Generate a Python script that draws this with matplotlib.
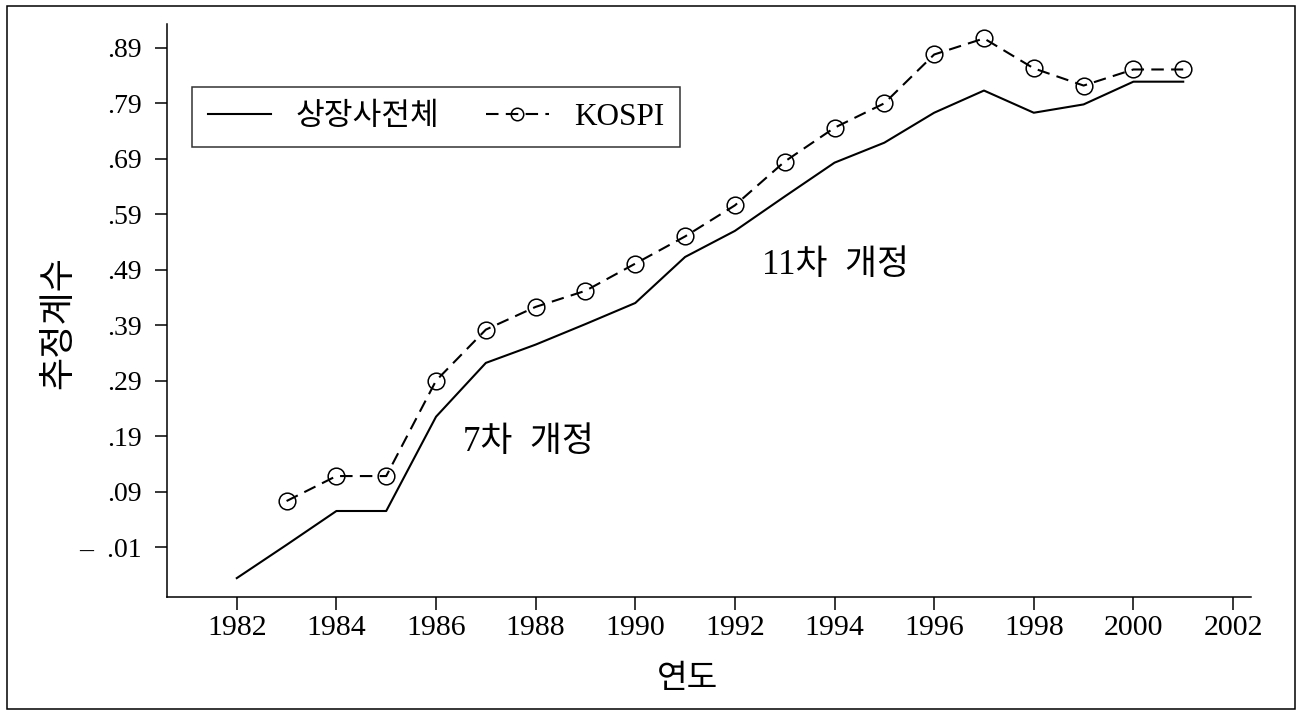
import numpy as np
import matplotlib
matplotlib.use('Agg')
import matplotlib.pyplot as plt
from matplotlib.patches import Rectangle

# 숫자는 세리프, 한글은 CJK 폰트로 대체
plt.rcParams['font.family'] = ['Liberation Serif', 'Noto Sans CJK KR']
plt.rcParams['axes.unicode_minus'] = False

# 데이터
years_all = [1982, 1983, 1984, 1985, 1986, 1987, 1988, 1989, 1990, 1991,
             1992, 1993, 1994, 1995, 1996, 1997, 1998, 1999, 2000, 2001]
coef_all = [-0.066, -0.006, 0.055, 0.055, 0.225, 0.322, 0.355, 0.392, 0.430, 0.513,
            0.560, 0.622, 0.683, 0.719, 0.773, 0.813, 0.773, 0.788, 0.829, 0.829]

years_kospi = [1983, 1984, 1985, 1986, 1987, 1988, 1989, 1990, 1991, 1992,
               1993, 1994, 1995, 1996, 1997, 1998, 1999, 2000, 2001]
coef_kospi = [0.073, 0.118, 0.118, 0.290, 0.382, 0.423, 0.452, 0.501, 0.550, 0.606,
              0.685, 0.746, 0.790, 0.878, 0.907, 0.853, 0.822, 0.851, 0.851]

y_ticks = [-0.01, 0.09, 0.19, 0.29, 0.39, 0.49, 0.59, 0.69, 0.79, 0.89]
y_ticklabels = ['\u2013  .01', '.09', '.19', '.29', '.39', '.49', '.59', '.69', '.79', '.89']
x_ticks = list(range(1982, 2003, 2))

fig = plt.figure(figsize=(13.02, 7.14), dpi=100)
ax = fig.add_axes([0.1283, 0.1639, 0.8325, 0.8025])

ax.plot(years_all, coef_all, color='black', linewidth=1.5, label='상장사전체')
ax.plot(years_kospi, coef_kospi, color='black', linewidth=1.5, linestyle=(0, (6, 3.5)),
        marker='o', markersize=12, markerfacecolor='none', markeredgewidth=1.1,
        label='KOSPI')

ax.set_xlim(1980.6, 2002.36)
ax.set_ylim(-0.100, 0.933)
ax.set_xticks(x_ticks)
ax.set_xticklabels([str(x) for x in x_ticks])
ax.set_yticks(y_ticks)
ax.set_yticklabels(y_ticklabels)

ax.spines['top'].set_visible(False)
ax.spines['right'].set_visible(False)
for s in ['left', 'bottom']:
    ax.spines[s].set_linewidth(1.1)
ax.tick_params(axis='both', direction='out', length=9, width=1.1)
ax.tick_params(axis='y', pad=9, labelsize=20)
ax.tick_params(axis='x', pad=4, labelsize=21.5)

ax.set_xlabel('연도', fontsize=24)
ax.xaxis.set_label_coords(0.4806, -0.117)
ax.set_ylabel('추정계수', fontsize=26)
ax.yaxis.set_label_coords(-0.084, 0.479)

ax.text(1986.54, 0.178, '7차  개정', fontsize=25, va='center', ha='left')
ax.text(1992.55, 0.497, '11차  개정', fontsize=25, va='center', ha='left')

leg = ax.legend(loc='upper left', bbox_to_anchor=(0.009, 0.917), ncol=2,
                fontsize=22.5, frameon=True, fancybox=False, edgecolor='black',
                handlelength=2.0, columnspacing=1.5, borderpad=0.5,
                handletextpad=0.8, markerscale=0.75)
leg.get_frame().set_linewidth(1.1)

# 바깥 테두리
fig.patches.append(Rectangle((7 / 1302, 5 / 714), 1288 / 1302, 703 / 714,
                             transform=fig.transFigure, fill=False,
                             edgecolor='black', linewidth=1.1))

fig.savefig('out.png', dpi=100)
